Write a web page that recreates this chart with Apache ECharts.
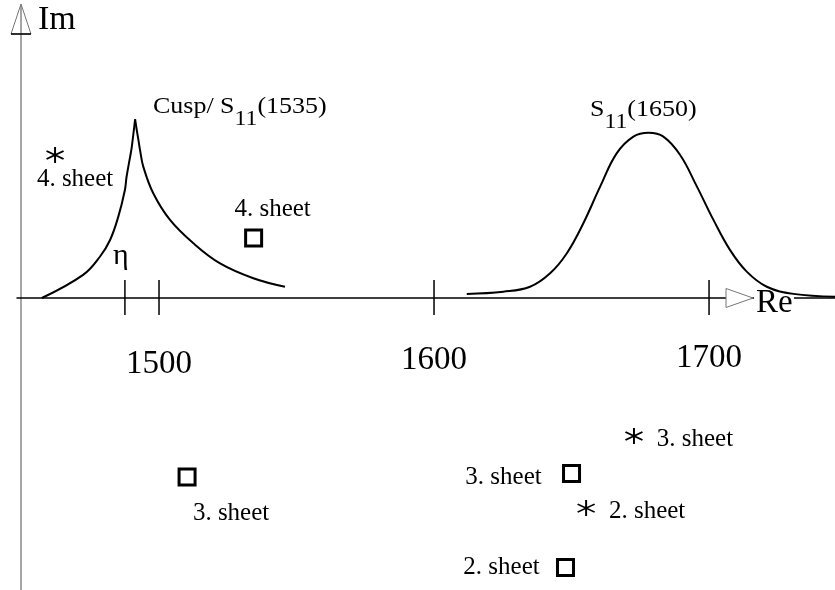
<!DOCTYPE html>
<html><head><meta charset="utf-8">
<script src="https://cdn.jsdelivr.net/npm/echarts@6/dist/echarts.min.js"></script>
<style>html,body{margin:0;padding:0;background:#fff}#c{width:835px;height:590px}</style>
</head><body><div id="c"></div>
<script>
// ---- data (Re, Im in MeV-like units) ----
const tickValues = [1487.6, 1500, 1600, 1700];
const tickNames = ['\u03B7', '', '', ''];
const tickLabels = [1500, 1600, 1700];

const cuspLeft = [[1457.4,0],[1472.4,8.4],[1478.5,15.0],[1482.2,21.1],[1485.2,29.6],[1487.6,39.3],[1488.2,44.1],[1489.5,51.4],[1490.1,55.0],[1491.3,65.0]];
const cuspRight = [[1491.3,65.0],[1491.9,61.1],[1492.5,57.5],[1493.1,53.8],[1494.3,47.7],[1497.9,38.1],[1504.0,28.4],[1512.5,19.9],[1522.2,12.6],[1534.3,7.2],[1545.8,4.1]];
const s11Curve = [[1611.9,1.5],[1625.2,2.3],[1634.9,4.1],[1642.2,9.0],[1648.3,16.3],[1654.3,27.2],[1660.4,40.5],[1666.4,52.6],[1672.5,58.7],[1678.0,60.1],[1683.4,58.7],[1689.5,52.0],[1695.6,40.5],[1701.6,28.4],[1707.6,17.5],[1713.7,9.6],[1721.0,4.1],[1730.7,1.5],[1745.8,0.5]];

const squarePoles = [[1510.2,-65.1],[1650.0,-63.8],[1647.8,-98.0],[1534.4,21.8]];
const squareLabels = ['3. sheet','3. sheet','2. sheet','4. sheet'];
const starPoles = [[1462.2,52.0],[1672.7,-50.2],[1655.3,-76.4]];
const starLabels = ['4. sheet','3. sheet','2. sheet'];

const curveTitles = ['Cusp/ S{s|11}{a|(1535)}', 'S{s|11}{a|(1650)}'];
const curveTitleAnchors = [[1497.8,69.6],[1656.7,68.4]];

// ---- layout ----
const XMIN = 1448.36, XMAX = 1745.8, YMIN = -106.18, YMAX = 106.55;
const squareLabelOffsets = [[44,36],[-68,4],[-64,0],[19,-29]];
const starLabelOffsets = [[20,24],[61,3],[61,3]];
const tickLabelDy = [66, 62, 60];
const FONT = '"Liberation Serif", "Times New Roman", serif';
const STAR = 'path://M90.8,79.33L95.8,70.67L9.2,20.67L4.2,29.33Z M4.2,70.67L9.2,79.33L95.8,29.33L90.8,20.67Z M45,100L55,100L55,0L45,0Z';

const chart = echarts.init(document.getElementById('c'), null, {renderer:'canvas'});
chart.setOption({
  animation: false,
  backgroundColor: '#fff',
  grid: {left: 17, right: 0, top: 5, bottom: 0, containLabel: false, outerBoundsMode: 'none'},
  xAxis: {
    type: 'value', min: XMIN, max: XMAX,
    axisLine: {onZero: true, lineStyle: {color: '#000', width: 1.5}},
    axisTick: {show: false},
    splitLine: {show: false},
    axisLabel: {show: false}
  },
  yAxis: {
    type: 'value', min: YMIN, max: YMAX, offset: -4,
    name: 'Im', nameLocation: 'end', nameGap: -15,
    nameTextStyle: {fontFamily: FONT, fontSize: 34, color: '#000', align: 'left', verticalAlign: 'middle', padding: [0,0,0,17]},
    axisLine: {show: true, onZero: false, lineStyle: {color: '#888', width: 1.5}},
    axisTick: {show: false}, axisLabel: {show: false}, splitLine: {show: false}
  },
  graphic: [
    {type: 'polygon', shape: {points: [[11,34],[21,4],[31,34]]}, style: {fill: 'none', stroke: '#777', lineWidth: 1}, z: 100},
    {type: 'line', shape: {x1: 11, y1: 34, x2: 31, y2: 34}, style: {stroke: '#000', lineWidth: 1.5}, z: 101},
    {type: 'rect', shape: {x: 754, y: 296, width: 40, height: 4}, style: {fill: '#fff'}, z: 99},
    {type: 'polygon', shape: {points: [[726,288.5],[753,298],[726,307.5]]}, style: {fill: '#fff', stroke: '#777', lineWidth: 1}, z: 100},
    {type: 'text', x: 756, y: 303, style: {text: 'Re', fontFamily: FONT, fontSize: 33, fill: '#000', align: 'left', verticalAlign: 'middle'}, z: 101}
  ],
  series: [
    {type: 'line', data: cuspLeft, showSymbol: false, smooth: 0.4, lineStyle: {color: '#000', width: 2}, silent: true},
    {type: 'line', data: cuspRight, showSymbol: false, smooth: 0.4, lineStyle: {color: '#000', width: 2}, silent: true},
    {type: 'line', data: s11Curve, showSymbol: false, smooth: 0.4, lineStyle: {color: '#000', width: 2}, silent: true, z: 120},
    {
      type: 'custom', silent: true, clip: false,
      data: tickValues.map(v => [v, 0]),
      renderItem: function (params, api) {
        const p = api.coord([api.value(0), 0]);
        const children = [{type: 'line', shape: {x1: p[0], y1: p[1] - 18, x2: p[0], y2: p[1] + 17}, style: {stroke: '#000', lineWidth: 1.5}}];
        const nm = tickNames[params.dataIndex];
        if (nm) children.push({type: 'text', x: p[0] - 4, y: p[1] - 42, style: {text: nm, fontFamily: FONT, fontSize: 30, fill: '#000', align: 'center', verticalAlign: 'middle'}});
        return {type: 'group', children: children};
      }
    },
    {
      type: 'custom', silent: true, clip: false,
      data: tickLabels.map(v => [v, 0]),
      renderItem: function (params, api) {
        const p = api.coord([api.value(0), 0]);
        return {type: 'text', x: p[0], y: p[1] + tickLabelDy[params.dataIndex],
          style: {text: String(tickLabels[params.dataIndex]), fontFamily: FONT, fontSize: 33, fill: '#000', align: 'center', verticalAlign: 'middle'}};
      }
    },
    {
      type: 'custom', silent: true, clip: false,
      data: curveTitleAnchors,
      renderItem: function (params, api) {
        const p = api.coord([api.value(0), api.value(1)]);
        return {type: 'text', x: p[0], y: p[1], scaleX: 1.13,
          style: {text: '{a|' + curveTitles[params.dataIndex].replace(/^([^{]*)/, '$1}'), align: 'left', verticalAlign: 'middle', fill: '#000',
            rich: {a: {fontFamily: FONT, fontSize: 23, fill: '#000'}, s: {fontFamily: FONT, fontSize: 21, fill: '#000', padding: [26,0,0,0]}}}};
      }
    },
    {
      type: 'scatter', z: 5,
      data: squarePoles.map((p, i) => ({value: p, label: {offset: squareLabelOffsets[i]}})),
      symbol: 'rect', symbolSize: 16,
      itemStyle: {color: '#fff', borderColor: '#000', borderWidth: 3, opacity: 1},
      label: {show: true, position: 'inside', formatter: p => squareLabels[p.dataIndex], fontFamily: FONT, fontSize: 25, color: '#000'}
    },
    {
      type: 'scatter', z: 5,
      data: starPoles.map((p, i) => ({value: p, label: {offset: starLabelOffsets[i]}})),
      symbol: STAR, symbolSize: [18, 16],
      itemStyle: {color: '#000', opacity: 1},
      label: {show: true, position: 'inside', formatter: p => starLabels[p.dataIndex], fontFamily: FONT, fontSize: 25, color: '#000'}
    }
  ]
});
</script></body></html>
